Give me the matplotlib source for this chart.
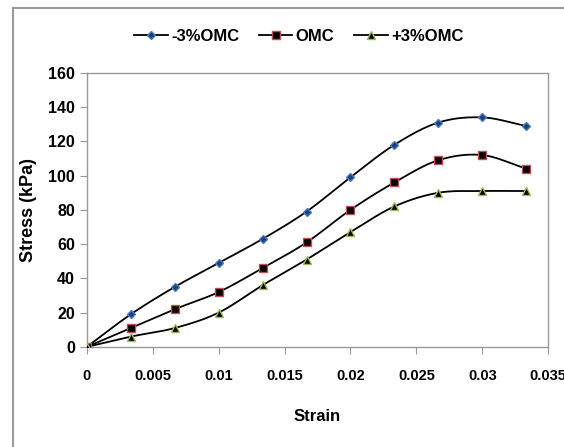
import matplotlib
matplotlib.use("Agg")
import matplotlib.pyplot as plt
import numpy as np
from matplotlib.patches import Rectangle

strain = [0, 0.00333, 0.00667, 0.01, 0.01333, 0.01667, 0.02, 0.02333, 0.02667, 0.03, 0.03333]
minus3 = [0, 19, 35, 49, 63, 79, 99, 118, 131, 134, 129]
omc = [0, 11, 22, 32, 46, 61, 80, 96, 109, 112, 104]
plus3 = [0, 6, 11, 20, 36, 51, 67, 82, 90, 91, 91]
labels = ["-3%OMC", "OMC", "+3%OMC"]
xticks = [0, 0.005, 0.01, 0.015, 0.02, 0.025, 0.03, 0.035]
yticks = [0, 20, 40, 60, 80, 100, 120, 140, 160]


def smooth(x, y, n=20):
    # catmull-rom style curve through the points, like excel's smoothed line
    x = np.asarray(x, float)
    y = np.asarray(y, float)
    px = np.concatenate([[2 * x[0] - x[1]], x, [2 * x[-1] - x[-2]]])
    py = np.concatenate([[2 * y[0] - y[1]], y, [2 * y[-1] - y[-2]]])
    xs, ys = [], []
    t = np.linspace(0, 1, n, endpoint=False)
    for i in range(1, len(px) - 2):
        for p, out in ((px, xs), (py, ys)):
            p0, p1, p2, p3 = p[i - 1], p[i], p[i + 1], p[i + 2]
            out.extend(0.5 * ((2 * p1) + (-p0 + p2) * t
                              + (2 * p0 - 5 * p1 + 4 * p2 - p3) * t ** 2
                              + (-p0 + 3 * p1 - 3 * p2 + p3) * t ** 3))
    xs.append(x[-1])
    ys.append(y[-1])
    return xs, ys


plt.rcParams['font.family'] = ['Liberation Sans', 'DejaVu Sans']
plt.rcParams['font.weight'] = 'bold'

fig = plt.figure(figsize=(5.64, 4.47), dpi=100)
ax = fig.add_axes([0.154, 0.224, 0.818, 0.613])

fig.patches.append(Rectangle((13 / 564, -0.1), 1.2, 1 - 8 / 447 + 0.1,
                             transform=fig.transFigure, fill=False,
                             edgecolor='#999999', linewidth=1.5))

styles = [('D', 4, '#1f3f7a', '#4a7bc0'),
          ('s', 5.5, 'black', '#c0504d'),
          ('^', 6, 'black', '#9bbb59')]
for ys, lab, (m, ms, fc, ec) in zip([minus3, omc, plus3], labels, styles):
    sx, sy = smooth(strain, ys)
    ax.plot(sx, sy, color='black', linewidth=1.3, zorder=2)
    ax.plot(strain, ys, linestyle='none', marker=m, markersize=ms,
            markerfacecolor=fc, markeredgecolor=ec, markeredgewidth=1, zorder=3)
    ax.plot([], [], color='black', linewidth=1.3, marker=m, markersize=ms,
            markerfacecolor=fc, markeredgecolor=ec, label=lab)

ax.set_xlim(0, 0.035)
ax.set_ylim(0, 160)
ax.set_xticks(xticks)
ax.set_xticklabels(['0', '0.005', '0.01', '0.015', '0.02', '0.025', '0.03', '0.035'])
ax.set_yticks(yticks)
ax.tick_params(axis='both', direction='out', color='#999999', labelsize=11.5, length=5)
ax.tick_params(axis='x', labelsize=10.5, pad=11)
for s in ax.spines.values():
    s.set_color('#999999')
    s.set_linewidth(1)

ax.set_xlabel('Strain', fontsize=12, fontweight='bold')
ax.set_ylabel('Stress (kPa)', fontsize=13, fontweight='bold')
ax.xaxis.set_label_coords(0.5, -0.225)
ax.yaxis.set_label_coords(-0.108, 0.5)

fig.legend(loc='center', bbox_to_anchor=(0.53, 0.918), ncol=3, frameon=False,
           fontsize=12, handlelength=2.0, columnspacing=1.2, handletextpad=0.2)

fig.savefig('out.png', dpi=100)
